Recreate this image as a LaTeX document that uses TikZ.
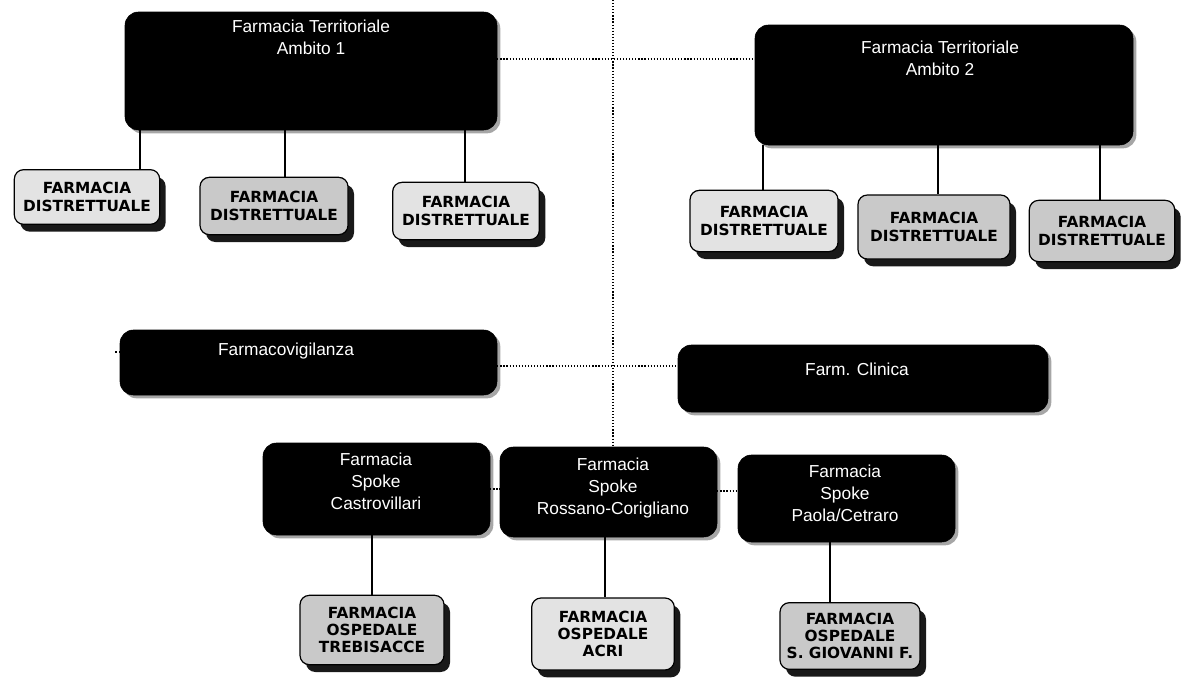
\documentclass[tikz,border=0pt]{standalone}
\usepackage{fontspec}
\setmainfont{Liberation Sans}
\newfontfamily\heavyfont{DejaVu Sans}[BoldFont={DejaVu Sans Bold}]
\usetikzlibrary{shadows,fit}
\begin{document}
\begin{tikzpicture}[x=0.75pt,y=-0.75pt,
  darkbox/.style={fill=black, draw=black, rounded corners=10pt, inner sep=0pt,
    drop shadow={shadow xshift=2.5pt, shadow yshift=-2.5pt, fill=gray!70, opacity=1}},
  dtext/.style={text=white, align=center, inner sep=0pt, font=\fontsize{13}{16.5}\selectfont},
  greybox/.style={fill=gray!22, draw=black, line width=0.9pt, rounded corners=7pt, inner sep=0pt,
    align=center, font=\heavyfont\bfseries\fontsize{11.5}{13}\selectfont,
    drop shadow={shadow xshift=4.5pt, shadow yshift=-5.5pt, fill=black!90, opacity=1}},
  greydk/.style={greybox, fill=gray!42},
  link/.style={draw=black, line width=0.9pt},
  dots/.style={draw=black, line width=1.8pt, dash pattern=on 0.9pt off 1.4pt}
]
\useasboundingbox (0,0) rectangle (1186,686);

% top-level coordinates
\coordinate (vtop) at (613,0);

% dark boxes
\node[darkbox, fit={(125,12) (497,130)}] (A1) {};
\node[dtext] (tA1) at (311,37) {Farmacia Territoriale\\Ambito 1};
\node[darkbox, fit={(755,25) (1133,145)}] (A2) {};
\node[dtext] (tA2) at (940,58) {Farmacia Territoriale\\Ambito 2};

\node[darkbox, fit={(120,330) (497,395)}] (FV) {};
\node[dtext] (tFV) at (286,351) {Farmacovigilanza};
\node[darkbox, fit={(678,345) (1048,412)}] (FC) {};
\node[dtext] (tFC) at (857,369) {Farm. Clinica};

\node[darkbox, fit={(263,443) (490,535)}] (SC) {};
\node[dtext] (tSC) at (376,481) {Farmacia\\Spoke\\Castrovillari};
\node[darkbox, fit={(500,447) (717,537)}] (SR) {};
\node[dtext] (tSR) at (613,488) {Farmacia\\Spoke\\Rossano-Corigliano};
\node[darkbox, fit={(738,455) (955,542)}] (SP) {};
\node[dtext] (tSP) at (845,493) {Farmacia\\Spoke\\Paola/Cetraro};

% grey boxes, ambito 1
\node[greybox, minimum width=109pt, minimum height=41pt] (d1) at (87,197) {FARMACIA\\DISTRETTUALE};
\node[greydk, minimum width=111pt, minimum height=43pt] (d2) at (274,206) {FARMACIA\\DISTRETTUALE};
\node[greybox, minimum width=110pt, minimum height=43pt] (d3) at (466,211) {FARMACIA\\DISTRETTUALE};
% grey boxes, ambito 2
\node[greybox, minimum width=111pt, minimum height=46pt] (d4) at (764,221) {FARMACIA\\DISTRETTUALE};
\node[greydk, minimum width=114pt, minimum height=48pt] (d5) at (934,227) {FARMACIA\\DISTRETTUALE};
\node[greydk, minimum width=109pt, minimum height=46pt] (d6) at (1102,231) {FARMACIA\\DISTRETTUALE};
% grey boxes, hospitals
\node[greydk, minimum width=108pt, minimum height=52pt] (h1) at (372,630) {FARMACIA\\OSPEDALE\\TREBISACCE};
\node[greybox, minimum width=107pt, minimum height=54pt] (h2) at (603,634) {FARMACIA\\OSPEDALE\\ACRI};
\node[greydk, minimum width=105pt, minimum height=50pt] (h3) at (850,636) {FARMACIA\\OSPEDALE\\S. GIOVANNI F.};

% solid links
\draw[link] (A1.south -| 140,0) -- (d1.north -| 140,0);
\draw[link] (A1.south -| 285,0) -- (d2.north -| 285,0);
\draw[link] (A1.south -| 465,0) -- (d3.north -| 465,0);
\draw[link] (A2.south -| 763,0) -- (d4.north -| 763,0);
\draw[link] (A2.south -| 938,0) -- (d5.north -| 938,0);
\draw[link] (A2.south -| 1100,0) -- (d6.north -| 1100,0);
\draw[link] (SC.south -| 372,0) -- (h1.north -| 372,0);
\draw[link] (SR.south -| 605,0) -- (h2.north -| 605,0);
\draw[link] (SP.south -| 830,0) -- (h3.north -| 830,0);

% dotted links
\draw[dots] (vtop) -- (SR.north -| vtop);
\draw[dots] (A1.east |- 0,59) -- (A2.west |- 0,59);
\draw[dots] (FV.east |- 0,366) -- (FC.west |- 0,366);
\coordinate (stub) at (115,352);
\draw[dots] (FV.west |- stub) -- (stub);
\draw[dots] (SC.east |- 0,489) -- (SR.west |- 0,489);
\draw[dots] (SR.east |- 0,491) -- (SP.west |- 0,491);
\end{tikzpicture}
\end{document}
